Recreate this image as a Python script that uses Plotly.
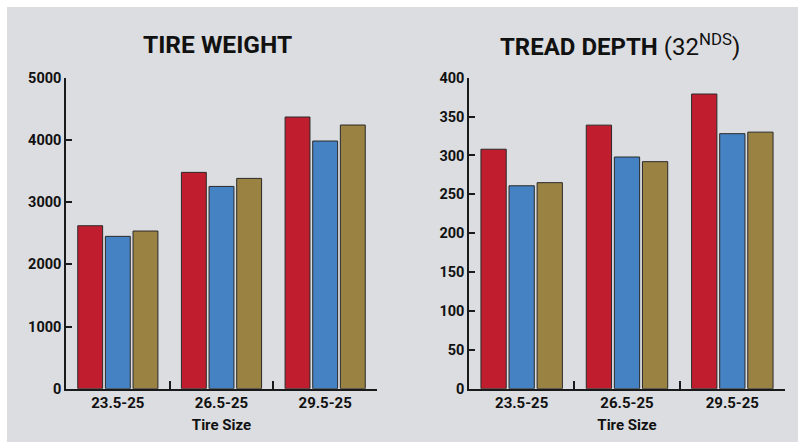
import plotly.graph_objects as go

categories = ["23.5-25", "26.5-25", "29.5-25"]
series_names = ["Tire A", "Tire B", "Tire C"]
colors = ["#c01d2f", "#4582c4", "#9a8242"]

weight_a = [2620, 3478, 4368]
weight_b = [2449, 3252, 3982]
weight_c = [2535, 3381, 4239]

depth_a = [308, 339, 379]
depth_b = [261, 298, 328]
depth_c = [265, 292, 330]

weight_ticks = [0, 1000, 2000, 3000, 4000, 5000]
depth_ticks = [0, 50, 100, 150, 200, 250, 300, 350, 400]

FONT = "Roboto, Liberation Sans, sans-serif"
W, H = 804, 444

fig = go.Figure()
for vals, name, col in zip([weight_a, weight_b, weight_c], series_names, colors):
    fig.add_trace(go.Bar(x=categories, y=vals, name=name, marker_color=col,
                         marker_line=dict(color="#2a2a2a", width=1),
                         xaxis="x", yaxis="y", showlegend=False))
for vals, name, col in zip([depth_a, depth_b, depth_c], series_names, colors):
    fig.add_trace(go.Bar(x=categories, y=vals, name=name, marker_color=col,
                         marker_line=dict(color="#2a2a2a", width=1),
                         xaxis="x2", yaxis="y2", showlegend=False))

ydom = [(H - 388.7) / H, (H - 77.7) / H]
line_common = dict(showline=True, linecolor="#1a1a1a", linewidth=1.5,
                   ticks="inside", tickcolor="#1a1a1a", tickwidth=1.5,
                   showgrid=False, zeroline=False, automargin=False)
ytickfont = dict(family=FONT, size=14.5, color="#111", weight="bold")
xtickfont = dict(family=FONT, size=15, color="#111", weight="bold")

xtitle = dict(text="<b>Tire Size</b>", standoff=8,
              font=dict(family=FONT, size=15, color="#111"))

fig.update_layout(
    width=W, height=H, autosize=False,
    margin=dict(l=0, r=0, t=0, b=0, pad=0),
    paper_bgcolor="white", plot_bgcolor="rgba(0,0,0,0)",
    barmode="group", bargap=0.2, bargroupgap=0.1,
    font=dict(family=FONT, color="#111"),
    xaxis=dict(domain=[66 / W, 377 / W], anchor="y", tickson="boundaries",
               ticklen=8, title=xtitle, tickfont=xtickfont, **line_common),
    yaxis=dict(domain=ydom, anchor="x", range=[0, 5000], tickvals=weight_ticks,
               ticklen=6, tickfont=ytickfont, **line_common),
    xaxis2=dict(domain=[469 / W, 785 / W], anchor="y2", tickson="boundaries",
                ticklen=8, title=xtitle, tickfont=xtickfont, **line_common),
    yaxis2=dict(domain=ydom, anchor="x2", range=[0, 400], tickvals=depth_ticks,
                ticklen=6, tickfont=ytickfont, **line_common),
    shapes=[dict(type="rect", xref="paper", yref="paper", layer="below",
                 x0=7 / W, x1=798 / W, y0=(H - 442) / H, y1=(H - 7) / H,
                 fillcolor="#dcdde0", line=dict(width=0))],
    annotations=[
        dict(text="<b>TIRE WEIGHT</b>", xref="paper", yref="paper",
             x=217 / W, y=(H - 45) / H, showarrow=False, xanchor="center", yanchor="middle",
             font=dict(family=FONT, size=24.5, color="#111")),
        dict(text="<b>TREAD DEPTH</b> (32<sup>NDS</sup>)", xref="paper", yref="paper",
             x=620 / W, y=(H - 45) / H, showarrow=False, xanchor="center", yanchor="middle",
             font=dict(family=FONT, size=24, color="#111")),
    ],
)

fig.write_html("out.html", config={"displayModeBar": False},
               post_script="document.body.style.margin='0';document.body.style.overflow='hidden';")
